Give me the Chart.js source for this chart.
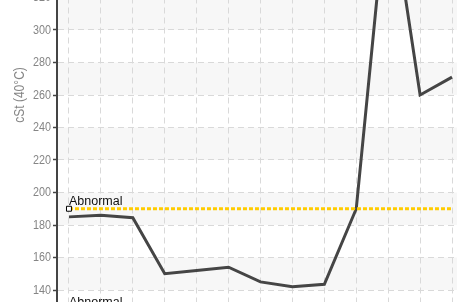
<!DOCTYPE html>
<html>
<head>
<meta charset="utf-8">
<title>Viscosity trend</title>
<script src="https://cdn.jsdelivr.net/npm/chart.js"></script>
<style>
  html, body { margin: 0; padding: 0; background: #fff; overflow: hidden; width: 457px; height: 302px; }
  #wrap { position: absolute; left: 0; top: -150px; width: 470px; height: 500px; }
</style>
</head>
<body>
<div id="wrap"><canvas id="chart"></canvas></div>
<script>
// samples (x labels are cut off in the view)
var samples = ['1', '2', '3', '4', '5', '6', '7', '8', '9', '10', '11', '12', '13'];
var viscosity = [185, 186, 184.5, 150, 152, 154, 145, 142, 143.5, 190, 390, 260, 271];
var abnormalHigh = 190;
var abnormalLow = 128;
var yMin = 120, yMax = 400, yStep = 20;
var yTitle = 'cSt (40°C)';

// light alternating horizontal bands
var bands = {
  id: 'bands',
  beforeDraw: function(chart) {
    var a = chart.chartArea, y = chart.scales.y, ctx = chart.ctx;
    ctx.save();
    ctx.fillStyle = '#f7f7f7';
    for (var v = yMin; v < yMax; v += yStep) {
      if ((v / yStep) % 2 === 1) {
        var top = y.getPixelForValue(v + yStep), bot = y.getPixelForValue(v);
        ctx.fillRect(a.left, top, a.right - a.left, bot - top);
      }
    }
    ctx.restore();
  }
};

// narrow-looking y labels and title (no condensed font installed, so squeeze them)
var narrowText = {
  id: 'narrowText',
  afterDraw: function(chart) {
    var y = chart.scales.y, ctx = chart.ctx, sx = 0.8;
    ctx.save();
    ctx.fillStyle = '#858585';
    ctx.font = "13.5px 'Liberation Sans', sans-serif";
    ctx.textAlign = 'right';
    ctx.textBaseline = 'middle';
    y.ticks.forEach(function(t) {
      ctx.save();
      ctx.translate(51, y.getPixelForValue(t.value));
      ctx.scale(sx, 1);
      ctx.fillText(String(t.value), 0, 0);
      ctx.restore();
    });
    ctx.font = "14px 'Liberation Sans', sans-serif";
    ctx.textAlign = 'center';
    ctx.translate(20, (chart.chartArea.top + chart.chartArea.bottom) / 2);
    ctx.rotate(-Math.PI / 2);
    ctx.scale(0.86, 1);
    ctx.fillText(yTitle, 0, 0);
    ctx.restore();
  }
};

// "Abnormal" captions above the limit lines
var limitLabels = {
  id: 'limitLabels',
  afterDatasetsDraw: function(chart) {
    var x = chart.scales.x, y = chart.scales.y, ctx = chart.ctx;
    ctx.save();
    ctx.font = "12.5px 'Liberation Sans', sans-serif";
    ctx.fillStyle = '#111';
    [abnormalHigh, abnormalLow].forEach(function(v) {
      ctx.fillText('Abnormal', x.getPixelForValue(0), y.getPixelForValue(v) - 4);
    });
    ctx.restore();
  }
};

function limitLine(v) {
  return {
    label: 'Abnormal',
    data: [{ x: 0, y: v }, { x: samples.length - 1, y: v }],
    borderColor: '#ffcc00',
    borderWidth: 3,
    borderDash: [4, 2],
    pointRadius: [3.5, 0],
    pointStyle: 'rect',
    pointBackgroundColor: '#fff',
    pointBorderColor: '#000',
    pointBorderWidth: 1
  };
}

new Chart(document.getElementById('chart'), {
  type: 'line',
  data: {
    datasets: [
      limitLine(abnormalHigh),
      limitLine(abnormalLow),
      {
        label: yTitle,
        data: viscosity.map(function(v, i) { return { x: i, y: v }; }),
        borderColor: '#454545',
        borderWidth: 3,
        pointRadius: 0,
        tension: 0
      }
    ]
  },
  options: {
    responsive: true,
    maintainAspectRatio: false,
    animation: false,
    layout: { padding: { top: 17.5, right: 6, bottom: 0, left: 0 } },
    plugins: { legend: { display: false }, tooltip: { enabled: false } },
    scales: {
      x: {
        type: 'linear',
        min: -0.375,
        max: samples.length - 1 + 0.375,
        ticks: { display: false, stepSize: 1, includeBounds: false },
        grid: { color: '#d9d9d9', drawTicks: false },
        border: { display: false, dash: [6, 4] },
        afterFit: function(s) { s.height = 27.5; }
      },
      y: {
        min: yMin,
        max: yMax,
        ticks: { stepSize: yStep, color: 'rgba(0,0,0,0)', padding: 2 },
        grid: { color: '#d9d9d9', tickColor: '#444', tickLength: 4, tickWidth: 1.5, tickBorderDash: [] },
        border: { display: true, color: '#444', width: 2, dash: [6, 4] },
        afterFit: function(s) { s.width = 57; }
      }
    }
  },
  plugins: [bands, narrowText, limitLabels]
});
</script>
</body>
</html>
